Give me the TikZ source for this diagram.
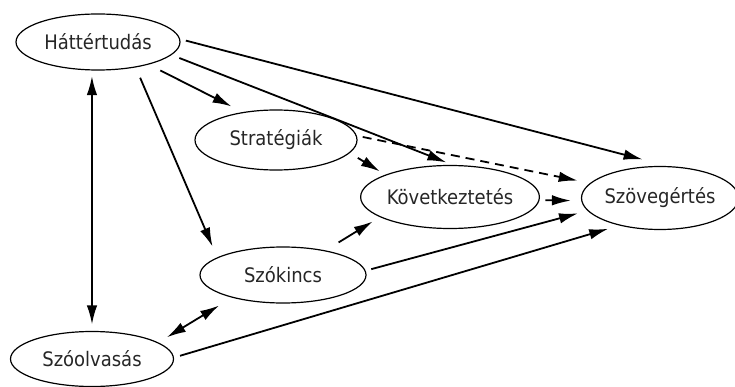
\documentclass[tikz,border=0pt]{standalone}
\usepackage{fontspec}
\setmainfont{DejaVu Sans Condensed}
\usetikzlibrary{arrows.meta,shapes.geometric}
\begin{document}
\begin{tikzpicture}[x=1pt,y=-1pt,
  concept/.style={draw, ellipse, line width=1.2pt, inner sep=0pt,
    minimum width=164pt, minimum height=56pt,
    font=\fontsize{20}{24}\selectfont, text=black!85},
  link/.style={line width=1.8pt, -{Latex[length=19pt,width=10.5pt]}},
  twoway/.style={line width=1.8pt, {Latex[length=19pt,width=10.5pt]}-{Latex[length=19pt,width=10.5pt]}},
  weak/.style={link, dash pattern=on 9pt off 6pt}]
\useasboundingbox (0,0) rectangle (735,387);

% concepts
\node[concept] (hat) at (98,42) {Háttértudás};
\node[concept, minimum width=162pt, minimum height=60pt] (str) at (276,140) {Stratégiák};
\node[concept, minimum height=63pt] (kov) at (450,197) {Következtetés};
\node[concept, minimum width=150pt, minimum height=63pt] (szov) at (660,198) {Szövegértés};
\node[concept, minimum width=166pt] (szok) at (283,275) {Szókincs};
\node[concept, minimum width=163pt, minimum height=55pt] (szoo) at (92,359) {Szóolvasás};

% influences
\draw[link, shorten <=5.9pt, shorten >=26.2pt] (hat.2.5) -- (szov.76.9);
\draw[link, shorten <=8.3pt, shorten >=6.9pt] (hat.-10.2) -- (kov.85.6);
\draw[link, shorten <=13pt, shorten >=12.5pt] (hat.-24.6) -- (str.140.1);
\draw[link, shorten <=11.2pt, shorten >=11.7pt] (hat.-34.9) -- (szok.165.2);
\draw[twoway, shorten <=5.6pt, shorten >=6.5pt] (hat.-102.4) -- (szoo.90);
\draw[link, shorten <=9.3pt, shorten >=6.3pt] (str.-10.4) -- (kov.161.3);
\draw[weak, shorten <=6pt, shorten >=12.5pt] (str.3) -- (szov.168.7);
\draw[link, shorten <=5.7pt, shorten >=10.3pt] (kov.-2.8) -- (szov.182.3);
\draw[link, shorten <=15.2pt, shorten >=8.3pt] (szok.30.9) -- (kov.196);
\draw[link, shorten <=5.8pt, shorten >=9.8pt] (szok.3.9) -- (szov.190.6);
\draw[link, shorten <=6.3pt, shorten >=11.5pt] (szoo.1.3) -- (szov.214.4);
\draw[twoway, shorten <=10pt, shorten >=15.2pt] (szoo.14.8) -- (szok.204.2);
\end{tikzpicture}
\end{document}
